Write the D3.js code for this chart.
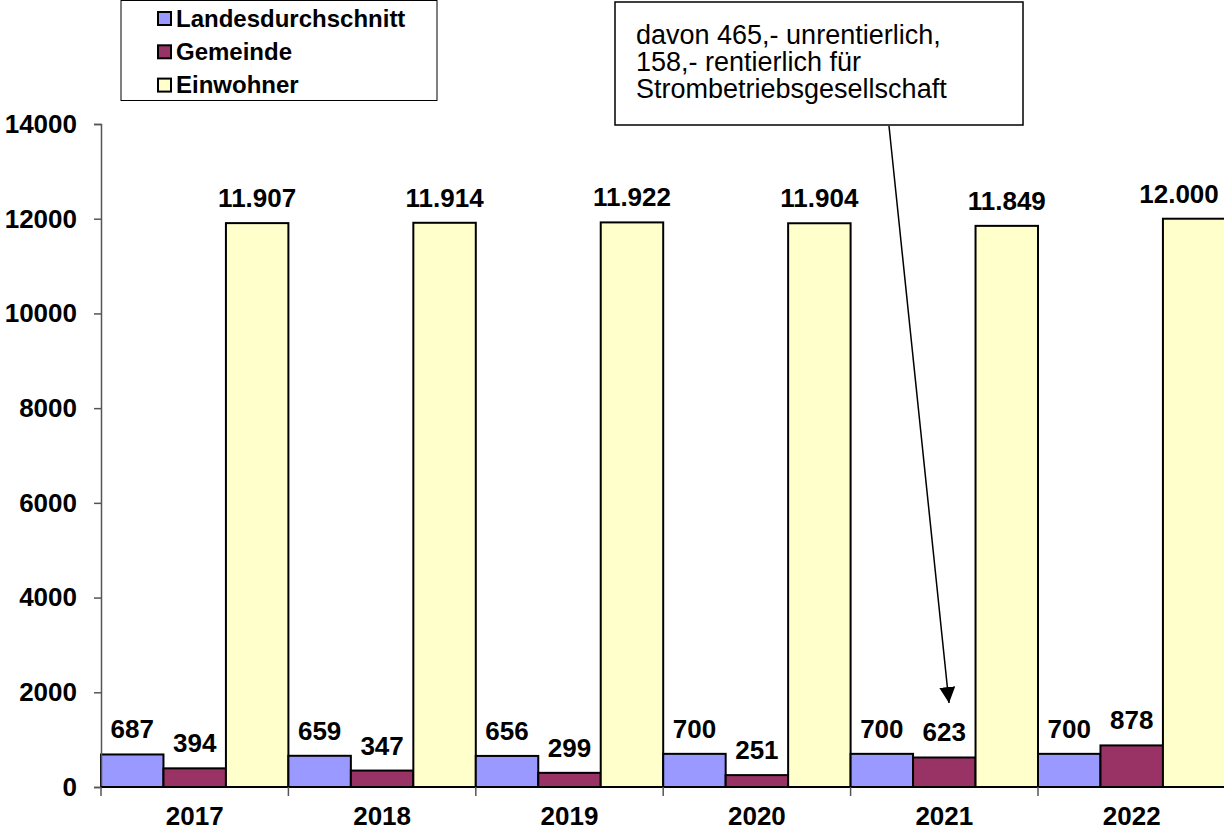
<!DOCTYPE html>
<html><head><meta charset="utf-8">
<script src="https://cdn.jsdelivr.net/npm/d3@7"></script>
<style>
body{margin:0;background:#fff;}
text{font-family:"Liberation Sans",Arial,sans-serif;}
</style></head>
<body><svg id="c" width="1224" height="832"></svg>
<script>
const years = ["2017","2018","2019","2020","2021","2022"];
const seriesNames = ["Landesdurchschnitt","Gemeinde","Einwohner"];
const landesdurchschnitt = [687,659,656,700,700,700];
const gemeinde = [394,347,299,251,623,878];
const einwohner = [11907,11914,11922,11904,11849,12000];
const yTicks = [0,2000,4000,6000,8000,10000,12000,14000];
const colors = ["#9999FF","#993366","#FFFFCC"];
const noteLines = ["davon 465,- unrentierlich,","158,- rentierlich für","Strombetriebsgesellschaft"];

const svg = d3.select("#c");
const W = 1224;
const x0 = d3.scaleBand().domain(years).range([101, 101 + 6*187.4]).padding(0);
const x1 = d3.scaleBand().domain(seriesNames).range([0, x0.bandwidth()]).padding(0);
const y = d3.scaleLinear().domain([0,14000]).range([787,124]);
const values = [landesdurchschnitt, gemeinde, einwohner];
const fmtDE = d3.formatLocale({decimal:",",thousands:".",grouping:[3],currency:["","€"]}).format(",d");

// bars
const data = [];
years.forEach((yr,i)=>seriesNames.forEach((s,j)=>data.push({yr,s,j,v:values[j][i]})));
svg.append("g").selectAll("rect").data(data).join("rect")
  .attr("x", d=>x0(d.yr)+x1(d.s))
  .attr("y", d=>y(d.v))
  .attr("width", x1.bandwidth())
  .attr("height", d=>y(0)-y(d.v))
  .attr("fill", d=>colors[d.j])
  .attr("stroke","#000").attr("stroke-width",2);

// y axis
const ya = svg.append("g").attr("transform","translate(101,0)")
  .call(d3.axisLeft(y).tickValues(yTicks).tickSize(7).tickPadding(17).tickFormat(d3.format("d")));
ya.select(".domain").attr("stroke","#555").attr("stroke-width",1.5);
ya.selectAll(".tick line").attr("stroke","#555").attr("stroke-width",1.5);
ya.selectAll("text").attr("font-size",26).attr("font-weight","bold").attr("fill","#000")
  .style("font-family","'Liberation Sans',Arial,sans-serif");

// x axis
svg.append("line").attr("x1",101).attr("x2",W).attr("y1",y(0)).attr("y2",y(0))
  .attr("stroke","#000").attr("stroke-width",2);
const xa = svg.append("g");
years.forEach(yr=>{
  xa.append("line").attr("x1",x0(yr)).attr("x2",x0(yr)).attr("y1",y(0)).attr("y2",y(0)+9)
    .attr("stroke","#555").attr("stroke-width",1.5);
  xa.append("text").attr("x",x0(yr)+x0.bandwidth()/2).attr("y",825)
    .attr("text-anchor","middle").attr("font-size",26).attr("font-weight","bold").text(yr);
});

// value labels
svg.append("g").selectAll("text").data(data).join("text")
  .attr("x", d=>{const c=x0(d.yr)+x1(d.s)+x1.bandwidth()/2; return Math.min(c, W-45);})
  .attr("y", d=>y(d.v)-16)
  .attr("text-anchor","middle").attr("font-size",26).attr("font-weight","bold")
  .text(d=>d.j===2?fmtDE(d.v):d.v);

// legend
const lg = svg.append("g");
lg.append("rect").attr("x",121).attr("y",0.5).attr("width",316).attr("height",100)
  .attr("fill","#fff").attr("stroke","#000").attr("stroke-width",1);
seriesNames.forEach((s,i)=>{
  const cy = 18 + i*33.3;
  lg.append("rect").attr("x",158).attr("y",cy-6).attr("width",13).attr("height",13)
    .attr("fill",colors[i]).attr("stroke","#000").attr("stroke-width",2);
  lg.append("text").attr("x",176).attr("y",cy+8.5).attr("font-size",24).attr("font-weight","bold").text(s);
});

// annotation
const an = svg.append("g");
an.append("rect").attr("x",615).attr("y",2).attr("width",408).attr("height",123)
  .attr("fill","#fff").attr("stroke","#000").attr("stroke-width",1.5);
noteLines.forEach((t,i)=>{
  an.append("text").attr("x",636).attr("y",44+i*27).attr("font-size",27).text(t);
});
svg.append("defs").append("marker").attr("id","ah").attr("viewBox","0 0 10 10")
  .attr("refX",10).attr("refY",5).attr("markerWidth",16).attr("markerHeight",16)
  .attr("markerUnits","userSpaceOnUse").attr("orient","auto")
  .append("path").attr("d","M0,0 L10,5 L0,10 z").attr("fill","#000");
an.append("line").attr("x1",889).attr("y1",126).attr("x2",949).attr("y2",703)
  .attr("stroke","#000").attr("stroke-width",1.5).attr("marker-end","url(#ah)");
</script></body></html>
